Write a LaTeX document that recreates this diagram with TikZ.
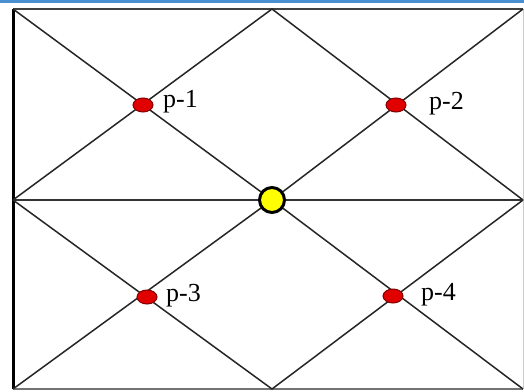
\documentclass[tikz,border=0pt]{standalone}
\usepackage{fontspec}
\setmainfont{Liberation Serif}
\definecolor{topblue}{HTML}{4A8FD0}
\definecolor{dotred}{HTML}{E00000}
\definecolor{dotyellow}{HTML}{FFFF00}
\tikzset{
  grid line/.style={draw=black!85, line width=1.5pt},
  pdot/.style={ellipse, fill=dotred, draw=black!50!red, line width=1pt, minimum width=20pt, minimum height=14pt, inner sep=0pt},
  cdot/.style={circle, fill=dotyellow, draw=black, line width=3pt, minimum size=25pt, inner sep=0pt},
  plabel/.style={font=\fontsize{26}{26}\selectfont, inner sep=0pt, anchor=west}
}
\usetikzlibrary{shapes.geometric}
\begin{document}
\begin{tikzpicture}[x=1pt,y=-1pt]
\useasboundingbox (0,0) rectangle (524,391);
\fill[white] (0,0) rectangle (524,391);
\fill[topblue] (0,0) rectangle (524,2.5);
% corners and key points
\coordinate (TL) at (13,9);
\coordinate (TM) at (272,9);
\coordinate (TR) at (523,9);
\coordinate (ML) at (13,200);
\coordinate (MM) at (272,200);
\coordinate (MR) at (523,200);
\coordinate (BL) at (13,389);
\coordinate (BM) at (272,389);
\coordinate (BR) at (523,389);
% border
\draw[black, line width=3pt] (BL) -- (TL);
\draw[black!75, line width=2pt] (TL) -- (TR);
\draw[black!55, line width=2pt] (BL) -- (BR);
\draw[black!20, line width=1pt] (TR) -- (BR);
% middle horizontal
\draw[black!80, line width=2pt] (ML) -- (MR);
% diagonals
\draw[grid line] (TL) -- (MM) -- (TR);
\draw[grid line] (ML) -- (TM) -- (MR);
\draw[grid line] (ML) -- (BM) -- (MR);
\draw[grid line] (BL) -- (MM) -- (BR);
% dots
\node[pdot] (p1) at (143,105) {};
\node[pdot] (p2) at (396,105) {};
\node[pdot] (p3) at (147,297) {};
\node[pdot] (p4) at (393,296) {};
\node[cdot] (c) at (MM) {};
% labels
\node[plabel] (l1) at (163,102) {p-1};
\node[plabel] (l2) at (429,104) {p-2};
\node[plabel] (l3) at (166,296) {p-3};
\node[plabel] (l4) at (421,295) {p-4};
\end{tikzpicture}
\end{document}
